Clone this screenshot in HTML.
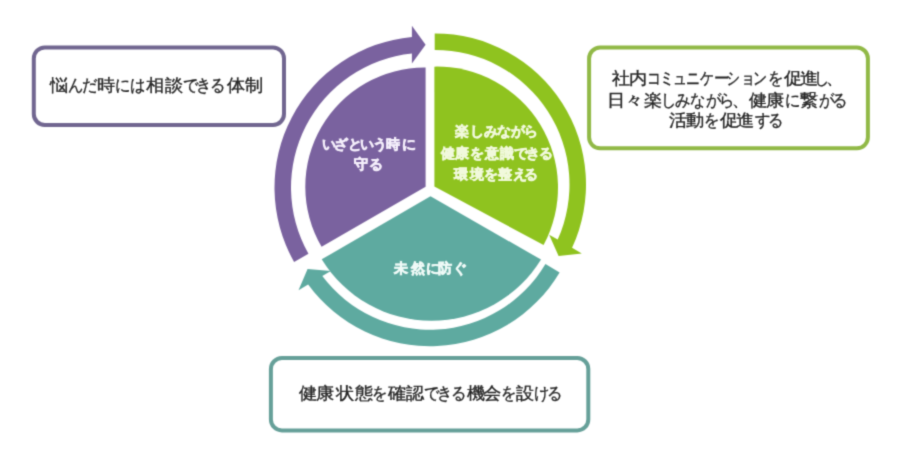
<!DOCTYPE html>
<html><head><meta charset="utf-8"><style>
html,body{margin:0;padding:0;background:#fff;}
body{width:916px;height:463px;position:relative;overflow:hidden;font-family:"Liberation Sans",sans-serif;}
.l{position:absolute;white-space:nowrap;line-height:1;}
.l span{display:inline-block;}
.d{color:#262626;-webkit-text-stroke:0.35px #262626;}
.w{color:#fff;font-weight:bold;-webkit-text-stroke:0.6px #fff;}
svg{position:absolute;left:0;top:0;}
#wrap{position:absolute;left:0;top:0;width:916px;height:463px;background:#fff;filter:url(#sf);}
</style></head><body><svg width="0" height="0" style="position:absolute"><filter id="sf" x="0" y="0" width="100%" height="100%" color-interpolation-filters="sRGB"><feConvolveMatrix order="3" kernelMatrix="1 4 1 4 16 4 1 4 1" divisor="36" edgeMode="duplicate"/></filter></svg><div id="wrap">
<svg width="916" height="463" viewBox="0 0 916 463">
<g fill="#fff" stroke-width="4">
<rect x="33.8" y="47.4" width="250.2" height="77.6" rx="11" stroke="#716690"/>
<rect x="589.1" y="47.5" width="278.8" height="100.8" rx="11" stroke="#91b947"/>
<rect x="270.9" y="358" width="317.4" height="72.4" rx="11" stroke="#66a099"/>
</g>
<path d="M425.60,186.80 L425.60,67.61 A119.1,119.1 0 0 0 321.60,246.84 Z" fill="#7a629f"/>
<path d="M434.40,186.50 L434.40,66.63 A121.1,121.1 0 0 1 543.57,245.03 Z" fill="#8fc31f"/>
<path d="M430.50,196.30 L541.03,259.60 A128.75,128.75 0 0 1 321.72,259.36 Z" fill="#5eaaa0"/>
<path d="M294.09,261.91 A151.1,151.1 0 0 1 411.90,37.02 L411.90,25.80 L425.60,44.65 L411.90,63.50 L411.90,53.60 A134.6,134.6 0 0 0 308.45,253.78 Z" fill="#7a629f"/>
<path d="M434.70,33.40 A151.1,151.1 0 0 1 572.07,247.87 L581.79,253.49 L558.61,255.92 L549.14,234.64 L557.71,239.59 A134.6,134.6 0 0 0 434.70,49.90 Z" fill="#8fc31f"/>
<path d="M559.62,272.58 A151.1,151.1 0 0 1 308.13,284.56 L298.52,290.35 L307.58,268.89 L330.80,270.88 L322.32,276.00 A134.6,134.6 0 0 0 545.46,264.12 Z" fill="#5eaaa0"/>
</svg>
<div class="l d" style="left:50.4px;top:76.6px;font-size:17px"><span style="width:17.6px;transform-origin:0px 0;transform:scaleX(1.07)">悩</span><span style="width:13.8px;transform-origin:1px 0;transform:scaleX(0.9)">ん</span><span style="width:15.0px;transform-origin:1px 0;transform:scaleX(0.9)">だ</span><span style="width:18.2px;transform-origin:1px 0;transform:scaleX(1.07)">時</span><span style="width:15.5px;transform-origin:2px 0;transform:scaleX(0.9)">に</span><span style="width:15.8px;transform-origin:1px 0;transform:scaleX(0.9)">は</span><span style="width:18.4px;transform-origin:0px 0;transform:scaleX(1.07)">相</span><span style="width:17.9px;transform-origin:0px 0;transform:scaleX(1.07)">談</span><span style="width:13.1px;transform-origin:1px 0;transform:scaleX(0.9)">で</span><span style="width:14.1px;transform-origin:3px 0;transform:scaleX(0.9)">き</span><span style="width:17.1px;transform-origin:2px 0;transform:scaleX(0.9)">る</span><span style="width:17.7px;transform-origin:0px 0;transform:scaleX(1.07)">体</span><span style="width:17.0px;transform-origin:0px 0;transform:scaleX(1.07)">制</span></div>
<div class="l d" style="left:611.9px;top:69.9px;font-size:17px"><span style="width:17.6px;transform-origin:1px 0;transform:scaleX(1.07)">社</span><span style="width:16.4px;transform-origin:1px 0;transform:scaleX(1.07)">内</span><span style="width:12.7px;transform-origin:3px 0;transform:scaleX(0.82)">コ</span><span style="width:13.5px;transform-origin:4px 0;transform:scaleX(0.82)">ミ</span><span style="width:13.8px;transform-origin:3px 0;transform:scaleX(0.82)">ュ</span><span style="width:13.7px;transform-origin:1px 0;transform:scaleX(0.82)">ニ</span><span style="width:14.8px;transform-origin:1px 0;transform:scaleX(0.82)">ケ</span><span style="width:11.3px;transform-origin:2px 0;transform:scaleX(0.9)">ー</span><span style="width:14.3px;transform-origin:2px 0;transform:scaleX(0.82)">シ</span><span style="width:12.4px;transform-origin:4px 0;transform:scaleX(0.82)">ョ</span><span style="width:15.2px;transform-origin:3px 0;transform:scaleX(0.82)">ン</span><span style="width:16.2px;transform-origin:2px 0;transform:scaleX(0.9)">を</span><span style="width:16.0px;transform-origin:0px 0;transform:scaleX(1.07)">促</span><span style="width:14.1px;transform-origin:1px 0;transform:scaleX(1.07)">進</span><span style="width:12.6px;transform-origin:4px 0;transform:scaleX(0.9)">し</span><span style="width:17.0px">、</span></div>
<div class="l d" style="left:607.2px;top:92.3px;font-size:17px"><span style="width:17.4px;transform-origin:3px 0;transform:scaleX(1.07)">日</span><span style="width:19.4px;transform-origin:4px 0;transform:scaleX(1.07)">々</span><span style="width:16.6px;transform-origin:1px 0;transform:scaleX(1.07)">楽</span><span style="width:14.8px;transform-origin:4px 0;transform:scaleX(0.9)">し</span><span style="width:15.1px;transform-origin:1px 0;transform:scaleX(0.9)">み</span><span style="width:15.8px;transform-origin:1px 0;transform:scaleX(0.9)">な</span><span style="width:12.8px;transform-origin:1px 0;transform:scaleX(0.9)">が</span><span style="width:13.3px;transform-origin:3px 0;transform:scaleX(0.9)">ら</span><span style="width:16.7px">、</span><span style="width:17.0px;transform-origin:0px 0;transform:scaleX(1.07)">健</span><span style="width:18.7px;transform-origin:1px 0;transform:scaleX(1.07)">康</span><span style="width:14.9px;transform-origin:2px 0;transform:scaleX(0.9)">に</span><span style="width:19.7px;transform-origin:1px 0;transform:scaleX(1.07)">繋</span><span style="width:12.9px;transform-origin:1px 0;transform:scaleX(0.9)">が</span><span style="width:17.0px;transform-origin:2px 0;transform:scaleX(0.9)">る</span></div>
<div class="l d" style="left:668.8px;top:112.1px;font-size:17px"><span style="width:17.7px;transform-origin:1px 0;transform:scaleX(1.07)">活</span><span style="width:17.4px;transform-origin:1px 0;transform:scaleX(1.07)">動</span><span style="width:15.7px;transform-origin:2px 0;transform:scaleX(0.9)">を</span><span style="width:16.7px;transform-origin:0px 0;transform:scaleX(1.07)">促</span><span style="width:18.4px;transform-origin:1px 0;transform:scaleX(1.07)">進</span><span style="width:13.4px;transform-origin:1px 0;transform:scaleX(0.9)">す</span><span style="width:17.0px;transform-origin:2px 0;transform:scaleX(0.9)">る</span></div>
<div class="l d" style="left:299.2px;top:384.7px;font-size:17px"><span style="width:17.1px;transform-origin:0px 0;transform:scaleX(1.07)">健</span><span style="width:19.7px;transform-origin:1px 0;transform:scaleX(1.07)">康</span><span style="width:19.1px;transform-origin:0px 0;transform:scaleX(1.07)">状</span><span style="width:16.6px;transform-origin:0px 0;transform:scaleX(1.07)">態</span><span style="width:16.2px;transform-origin:2px 0;transform:scaleX(0.9)">を</span><span style="width:18.0px;transform-origin:0px 0;transform:scaleX(1.07)">確</span><span style="width:18.0px;transform-origin:0px 0;transform:scaleX(1.07)">認</span><span style="width:13.3px;transform-origin:1px 0;transform:scaleX(0.9)">で</span><span style="width:14.1px;transform-origin:3px 0;transform:scaleX(0.9)">き</span><span style="width:15.6px;transform-origin:2px 0;transform:scaleX(0.9)">る</span><span style="width:16.1px;transform-origin:0px 0;transform:scaleX(1.07)">機</span><span style="width:17.7px;transform-origin:1px 0;transform:scaleX(1.07)">会</span><span style="width:15.3px;transform-origin:2px 0;transform:scaleX(0.9)">を</span><span style="width:17.6px;transform-origin:0px 0;transform:scaleX(1.07)">設</span><span style="width:13.2px;transform-origin:1px 0;transform:scaleX(0.9)">け</span><span style="width:17.0px;transform-origin:2px 0;transform:scaleX(0.9)">る</span></div>
<div class="l w" style="left:322.0px;top:137.0px;font-size:14px;color:#f4eefb;-webkit-text-stroke-color:#f4eefb"><span style="width:11.8px">い</span><span style="width:14.5px">ざ</span><span style="width:12.1px">と</span><span style="width:12.4px">い</span><span style="width:13.2px">う</span><span style="width:15.6px">時</span><span style="width:14.0px">に</span></div>
<div class="l w" style="left:354.2px;top:156.5px;font-size:14px;color:#f4eefb;-webkit-text-stroke-color:#f4eefb"><span style="width:14.6px">守</span><span style="width:14.0px">る</span></div>
<div class="l w" style="left:455.4px;top:124.0px;font-size:14px;color:#f1f9dc;-webkit-text-stroke-color:#f1f9dc"><span style="width:14.4px">楽</span><span style="width:14.6px">し</span><span style="width:12.5px">み</span><span style="width:13.9px">な</span><span style="width:12.8px">が</span><span style="width:14.0px">ら</span></div>
<div class="l w" style="left:441.2px;top:146.3px;font-size:14px;color:#f1f9dc;-webkit-text-stroke-color:#f1f9dc"><span style="width:14.2px">健</span><span style="width:14.4px">康</span><span style="width:15.2px">を</span><span style="width:14.8px">意</span><span style="width:14.5px">識</span><span style="width:11.9px">で</span><span style="width:12.6px">き</span><span style="width:14.0px">る</span></div>
<div class="l w" style="left:453.7px;top:166.5px;font-size:14px;color:#f1f9dc;-webkit-text-stroke-color:#f1f9dc"><span style="width:15.9px">環</span><span style="width:14.2px">境</span><span style="width:14.7px">を</span><span style="width:14.3px">整</span><span style="width:11.4px">え</span><span style="width:14.0px">る</span></div>
<div class="l w" style="left:393.5px;top:260.5px;font-size:14px;color:#effaf7;-webkit-text-stroke-color:#effaf7"><span style="width:17.4px">未</span><span style="width:15.5px">然</span><span style="width:12.0px">に</span><span style="width:14.5px">防</span><span style="width:14.0px">ぐ</span></div>
</div></body></html>
